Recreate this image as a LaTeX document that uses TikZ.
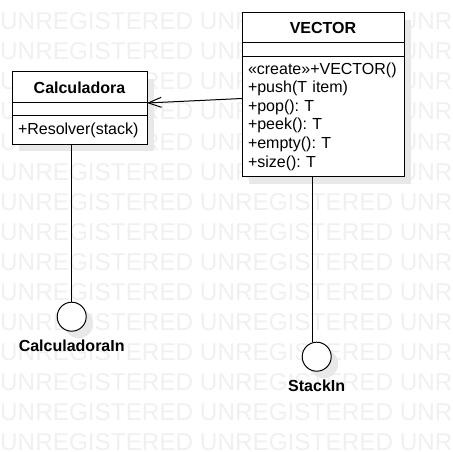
\documentclass[tikz,border=0pt]{standalone}
\usepackage{fontspec}
\setmainfont{Liberation Sans}
\frenchspacing
\usetikzlibrary{calc}
\usetikzlibrary{arrows.meta}
\usetikzlibrary{positioning}
\usetikzlibrary{shadows}

\tikzset{
  umlshade/.style={drop shadow={shadow xshift=7pt, shadow yshift=-7pt, fill=black!9, opacity=1}},
  compart/.style={draw, fill=white, line width=1pt, outer sep=0, inner xsep=6pt, anchor=north west, umlshade},
  classname/.style={compart, font=\fontsize{16}{18.6}\selectfont\bfseries},
  classops/.style={compart, align=left, font=\fontsize{16}{18.6}\selectfont},
  iface/.style={circle, draw, fill=white, line width=1pt, minimum size=29, inner sep=0, umlshade},
  ifacelabel/.style={font=\fontsize{16}{18.6}\selectfont\bfseries, inner sep=0},
  watermark/.style={anchor=base west, inner sep=0, text=black!6, font=\fontsize{24.3}{24}\selectfont},
  assoc/.style={line width=1pt, -{Straight Barb[length=13pt, width=10pt]}}
}

\begin{document}
\begin{tikzpicture}[x=1pt, y=-1pt]
\useasboundingbox (0,0) rectangle (453,452);
\foreach \y in {30,60,...,450} {
\node[watermark] (wm\y) at (0,\y) {UNREGISTERED UNREGISTERED UNREGISTERED};
}
% VECTOR
\node[classname, minimum width=162, minimum height=30] (vecname) at (242,13) {VECTOR};
\node[compart, minimum width=162, minimum height=13.5] (vecattr) at (vecname.south west) {};
\node[classops, text width=150, minimum height=120] (vecops) at (vecattr.south west)
  {«create»+VECTOR()\\+push(T item)\\+pop(): T\\+peek(): T\\+empty(): T\\+size(): T};
% Calculadora
\node[classname, minimum width=135, minimum height=31] (calcname) at (12,72) {Calculadora};
\node[compart, minimum width=135, minimum height=13] (calcattr) at (calcname.south west) {};
\node[classops, text width=123, minimum height=28] (calcops) at (calcattr.south west) {+Resolver(stack)};
\draw[assoc] ($(vecops.north west)+(0,42)$) -- (calcattr.north east);
% interfaces
\node[iface] (calcin) at (71.7,316.7) {};
\node[iface] (stackin) at (316.7,356.7) {};
\draw[line width=1pt] (calcops.south -| calcin.north) -- (calcin.north);
\draw[line width=1pt] (vecops.south -| stackin.107) -- (stackin.107);
\node[ifacelabel, below=8.5pt of calcin] (calcinlabel) {CalculadoraIn};
\node[ifacelabel, below=8.5pt of stackin] (stackinlabel) {StackIn};
\end{tikzpicture}
\end{document}
